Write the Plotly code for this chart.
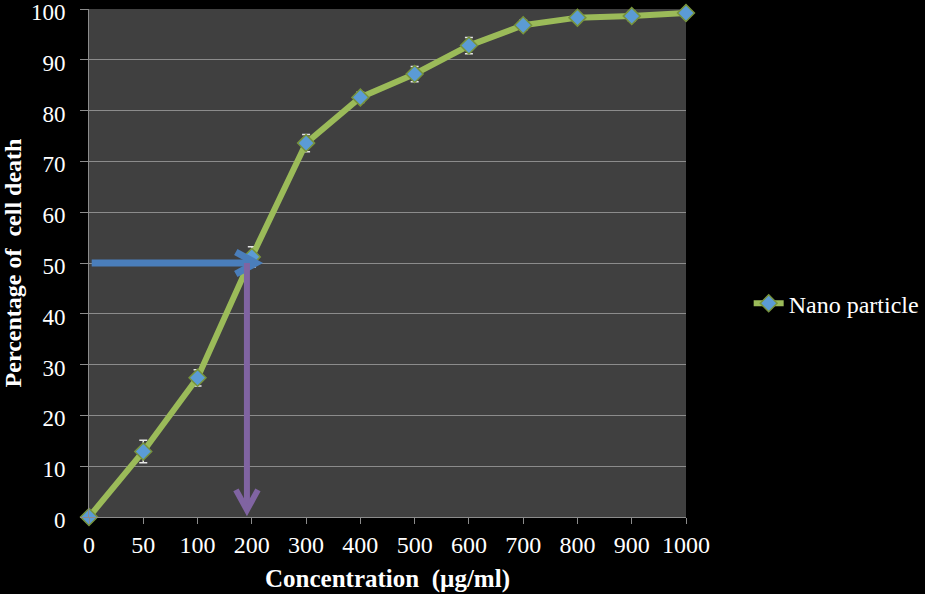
import plotly.graph_objects as go

categories = ["0", "50", "100", "200", "300", "400", "500", "600", "700", "800", "900", "1000"]
cell_death = [0, 12.9, 27.4, 51.2, 73.6, 82.6, 87.2, 92.8, 96.8, 98.3, 98.6, 99.2]
error_vals = [0, 2.2, 1.6, 2.0, 1.7, 1.0, 1.5, 1.6, 1.0, 0.7, 0.9, 0.3]
y_ticks = [0, 10, 20, 30, 40, 50, 60, 70, 80, 90, 100]
series_name = "Nano particle"

xpos = list(range(len(categories)))

W, H = 925, 594
ML, MR, MT, MB = 89, 239, 9, 77
x_range = [0, len(categories) - 1]
y_range = [0, 100]
px_per_x = (W - ML - MR) / (x_range[1] - x_range[0])
px_per_y = (H - MT - MB) / (y_range[1] - y_range[0])

fig = go.Figure()
fig.add_trace(go.Scatter(
    x=xpos, y=cell_death, name=series_name, mode="lines+markers",
    line=dict(color="#9BBB59", width=6),
    marker=dict(symbol="diamond", size=13, color="#5B9BD5",
                line=dict(color="#77933C", width=1.5)),
    error_y=dict(type="data", array=error_vals, visible=True,
                 color="#E6E6E6", thickness=1.5, width=4),
    cliponaxis=False,
))

# arrows marking the IC50 reading
ic50_y = 50
blue_tail_x = 0.05
blue_tip_x = 3.11
purple_x = 2.91
purple_tip_y = 1.0
blue = "#4A7EBB"
purple = "#8064A2"
head_back, head_half = 22, 11  # chevron size in pixels

# blue horizontal arrow
bx_back = blue_tip_x - head_back / px_per_x
fig.add_shape(type="line", x0=blue_tail_x, y0=ic50_y, x1=blue_tip_x - 3 / px_per_x, y1=ic50_y,
              xref="x", yref="y", line=dict(color=blue, width=7), layer="above")
fig.add_shape(type="path", xref="x", yref="y", layer="above",
              path=f"M{bx_back},{ic50_y + head_half / px_per_y} L{blue_tip_x - 2 / px_per_x},{ic50_y} "
                   f"L{bx_back},{ic50_y - head_half / px_per_y}",
              line=dict(color=blue, width=7))
# purple vertical arrow
py_back = purple_tip_y + head_back / px_per_y
fig.add_shape(type="line", x0=purple_x, y0=ic50_y, x1=purple_x, y1=purple_tip_y + 3 / px_per_y,
              xref="x", yref="y", line=dict(color=purple, width=6), layer="above")
fig.add_shape(type="path", xref="x", yref="y", layer="above",
              path=f"M{purple_x - head_half / px_per_x},{py_back} L{purple_x},{purple_tip_y + 2 / px_per_y} "
                   f"L{purple_x + head_half / px_per_x},{py_back}",
              line=dict(color=purple, width=6))

serif = "Liberation Serif, Times New Roman, serif"
fig.update_layout(
    width=W, height=H,
    paper_bgcolor="#000000", plot_bgcolor="#404040",
    margin=dict(l=ML, r=MR, t=MT, b=MB, autoexpand=False),
    font=dict(family=serif, color="#FFFFFF", size=22),
    showlegend=True,
    legend=dict(x=1.105, y=0.42, xanchor="left", yanchor="middle",
                font=dict(family=serif, size=24, color="#FFFFFF"),
                bgcolor="rgba(0,0,0,0)"),
    xaxis=dict(
        range=x_range, tickmode="array", tickvals=xpos, ticktext=categories,
        automargin=False,
        showgrid=False, zeroline=False, showline=True, linecolor="#8C8C8C", linewidth=1,
        ticks="outside", tickcolor="#8C8C8C", ticklen=6, ticklabeloverflow="allow",
        tickfont=dict(family=serif, size=24, color="#FFFFFF"),
        title=dict(text="<b>Concentration  (µg/ml)</b>", standoff=12,
                   font=dict(family=serif, size=25, color="#FFFFFF")),
    ),
    yaxis=dict(
        range=y_range, tickmode="array", tickvals=y_ticks,
        automargin=False,
        showgrid=True, gridcolor="#8C8C8C", gridwidth=1,
        zeroline=False, showline=True, linecolor="#8C8C8C", linewidth=1,
        ticks="outside", tickcolor="#8C8C8C", ticklen=8, ticklabeloverflow="allow",
        ticklabelstandoff=10, ticklabelshift=3,
        tickfont=dict(family=serif, size=23, color="#FFFFFF"),
        title=dict(text="<b>Percentage of  cell death</b>", standoff=12,
                   font=dict(family=serif, size=24, color="#FFFFFF")),
    ),
)

fig.write_html("out.html", config={"displayModeBar": False},
               post_script="document.body.style.margin='0';document.body.style.overflow='hidden';")
